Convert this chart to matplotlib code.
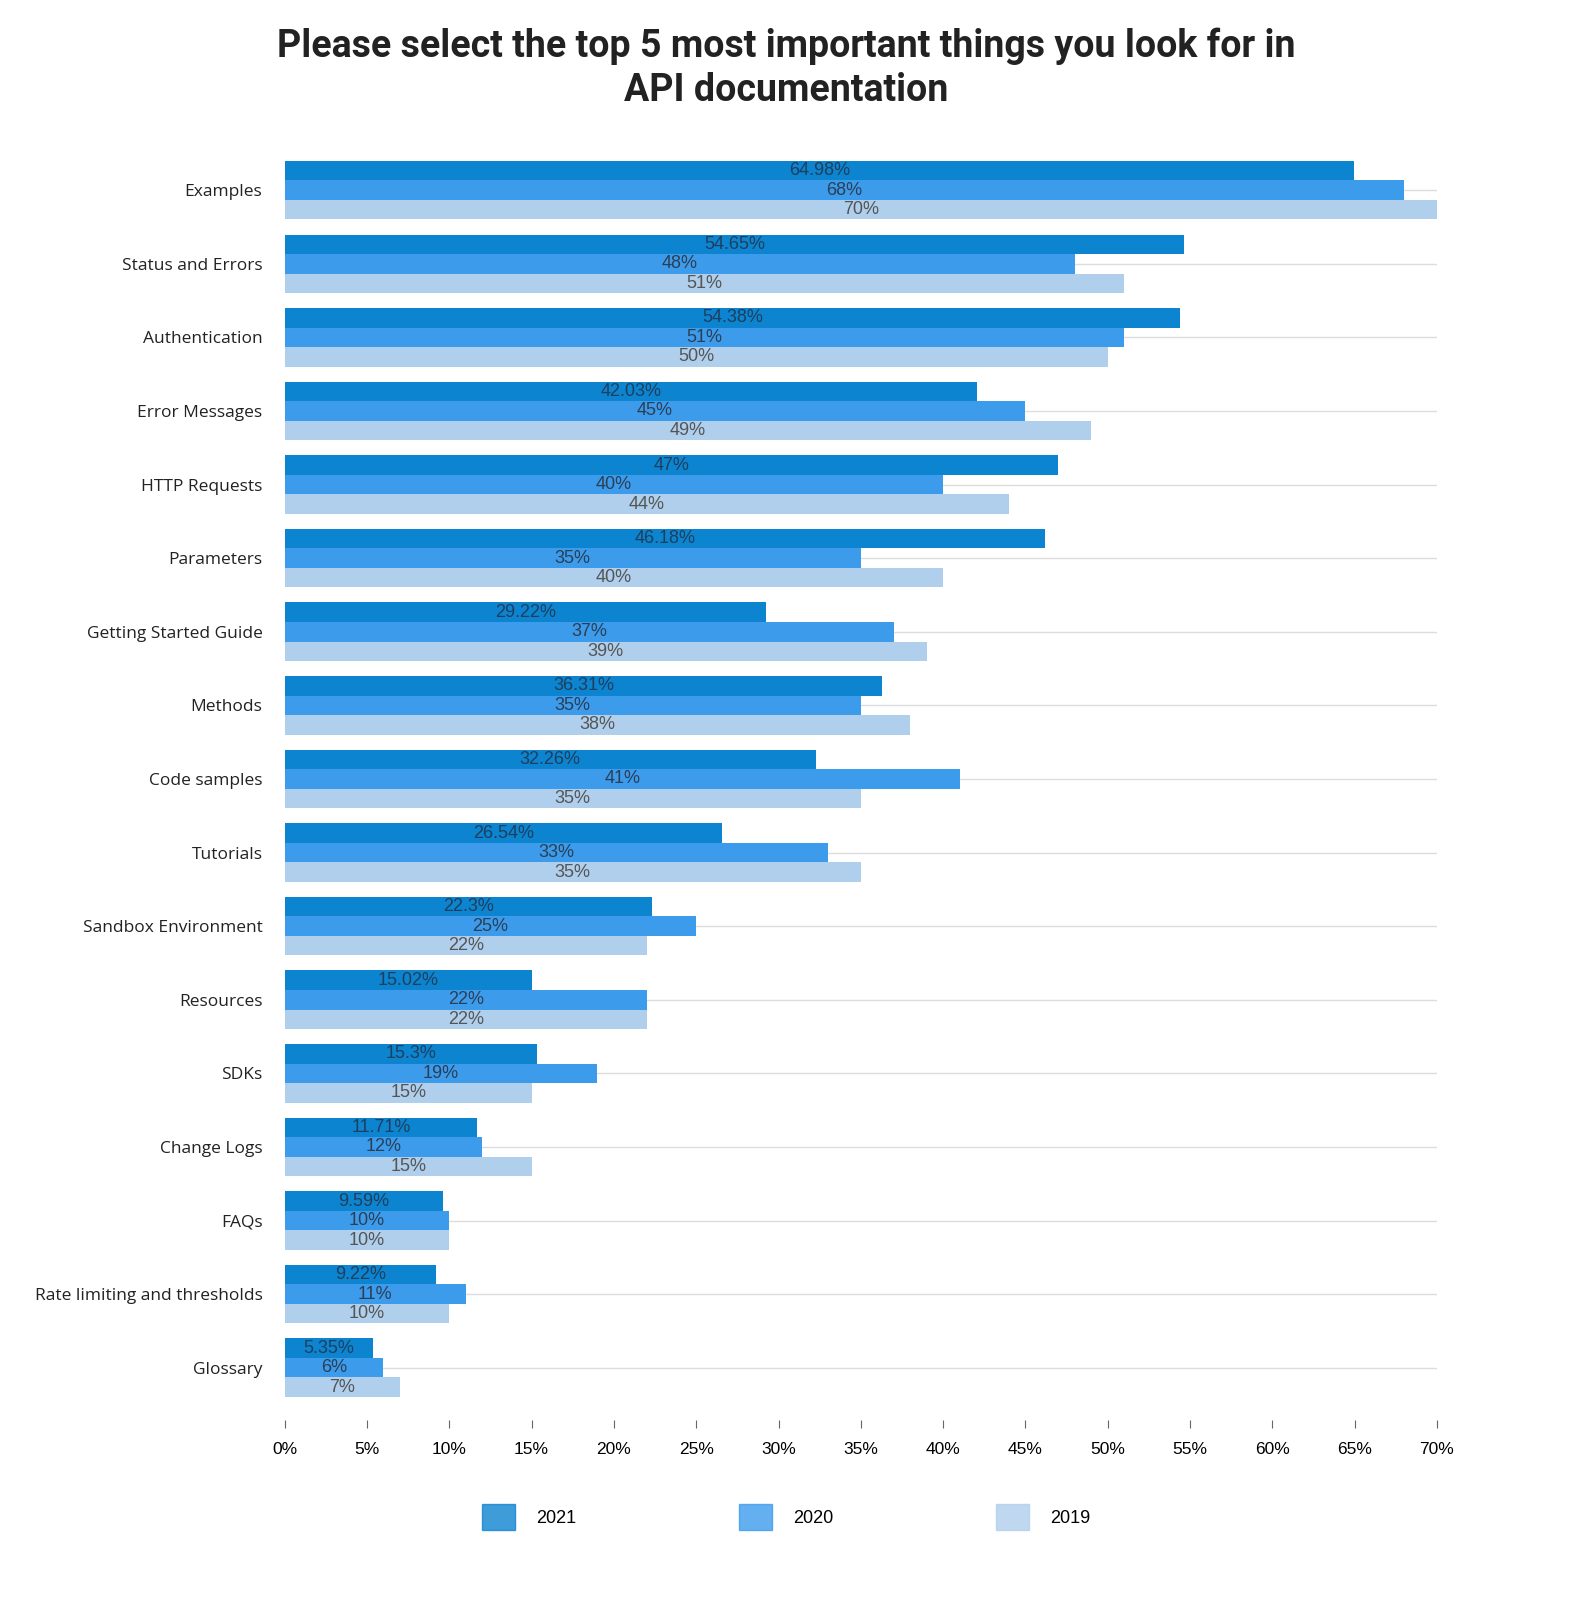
import matplotlib
matplotlib.use("Agg")
import matplotlib.pyplot as plt
import numpy as np

categories = ["Examples","Status and Errors","Authentication","Error Messages","HTTP Requests",
              "Parameters","Getting Started Guide","Methods","Code samples","Tutorials",
              "Sandbox Environment","Resources","SDKs","Change Logs","FAQs",
              "Rate limiting and thresholds","Glossary"]
v2021 = [64.98,54.65,54.38,42.03,47,46.18,29.22,36.31,32.26,26.54,22.3,15.02,15.3,11.71,9.59,9.22,5.35]
v2020 = [68,48,51,45,40,35,37,35,41,33,25,22,19,12,10,11,6]
v2019 = [70,51,50,49,44,40,39,38,35,35,22,22,15,15,10,10,7]
series = [("2021", v2021, "#0d84cf", "#1d3f5e"), ("2020", v2020, "#3d9bec", "#2a3f55"), ("2019", v2019, "#afcfec", "#555555")]
xticks = list(range(0, 75, 5))

fig = plt.figure(figsize=(15.73, 16), dpi=100)
ax = fig.add_axes([0.181, 0.1125, 0.9135-0.181, 0.903-0.1125])
y = np.arange(len(categories))
h = 0.265
for k, (name, vals, col, tcol) in enumerate(series):
    pos = y + (k-1)*h
    ax.barh(pos, vals, height=h, color=col, label=name, zorder=2)
    for p, v in zip(pos, vals):
        ax.text(v/2, p, f"{v:g}%", ha="center", va="center", fontsize=13,
                color=tcol, family="Liberation Sans", zorder=3)
for yy in y:
    ax.axhline(yy, color="#dddddd", lw=1, zorder=1)
ax.set_xlim(0, 70)
ax.set_ylim(16.71, -0.475)
ax.set_yticks(y)
ax.set_yticklabels(categories, family="Open Sans", fontsize=12.5, color="#222222")
ax.tick_params(axis="y", length=0, pad=16)
ax.set_xticks(xticks)
ax.set_xticklabels([f"{t}%" for t in xticks], family="Liberation Sans", fontsize=12.5)
ax.tick_params(axis="x", length=6, color="#666666", pad=10)
for s in ax.spines.values():
    s.set_visible(False)
fig.suptitle("Please select the top 5 most important things you look for in\nAPI documentation",
             family="Roboto", fontweight="bold", fontsize=27, y=0.983, x=0.5, color="#222222",
             linespacing=1.25)
handles = [plt.Rectangle((0,0),1,1,color=c, alpha=0.8) for _,_,c,_ in series]
fig.legend(handles, [s[0] for s in series], loc="center", bbox_to_anchor=(0.5, 0.052), ncol=3,
           frameon=False, handlelength=1.8, handleheight=1.8, columnspacing=9, handletextpad=1.2,
           prop={"family": "Liberation Sans", "size": 13})
fig.savefig("out.png", dpi=100)
